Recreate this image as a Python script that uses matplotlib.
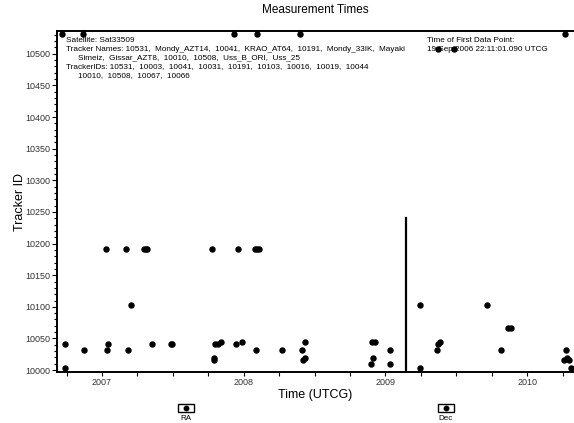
import matplotlib
matplotlib.use("Agg")
import matplotlib.pyplot as plt
from matplotlib.patches import Rectangle
from matplotlib.ticker import MultipleLocator, FixedLocator

plt.rcParams['font.family'] = ['Liberation Sans', 'DejaVu Sans']

# Measurement times (decimal years) per tracker ID
tracker_ids = [10531, 10508, 10191, 10103, 10067, 10066, 10044, 10041,
               10031, 10019, 10016, 10010, 10003]
times = {
    10531: [2006.716, 2006.866, 2007.932, 2008.094, 2008.397, 2010.267],
    10508: [2009.371, 2009.484],
    10191: [2007.028, 2007.169, 2007.299, 2007.311, 2007.318, 2007.774,
            2007.962, 2008.080, 2008.094, 2008.110],
    10103: [2007.207, 2009.242, 2009.719],
    10067: [2009.863],
    10066: [2009.886],
    10044: [2007.838, 2007.986, 2008.433, 2008.903, 2008.927, 2009.385],
    10041: [2006.739, 2007.044, 2007.353, 2007.490, 2007.497, 2007.797,
            2007.819, 2007.946, 2009.371],
    10031: [2006.875, 2007.033, 2007.186, 2008.087, 2008.268, 2008.411,
            2009.032, 2009.362, 2009.816, 2010.277],
    10019: [2007.790, 2008.433, 2008.915, 2010.285],
    10016: [2007.790, 2008.418, 2010.263, 2010.298],
    10010: [2008.898, 2009.032],
    10003: [2006.739, 2009.242, 2010.310],
}
gap_time = 2009.143
gap_top = 10240

year_ticks = [2007, 2008, 2009, 2010]
year_labels = ['2007', '2008', '2009', '2010']

fig = plt.figure(figsize=(5.74, 4.23), dpi=100)
ax = fig.add_axes([57/574, 1-372/423, 1-57/574, (372-31)/423])

for tid in tracker_ids:
    ts = times[tid]
    ax.plot(ts, [tid]*len(ts), 'o', color='black', markersize=3.6,
            linestyle='none', clip_on=False, zorder=3)

ax.plot([gap_time, gap_time], [9996, gap_top], color='black', lw=1.6, zorder=2)

ax.set_xlim(2006.682, 2010.331)
ax.set_ylim(9997, 10536)

ax.xaxis.set_major_locator(FixedLocator(year_ticks))
ax.set_xticklabels(year_labels)
ax.xaxis.set_minor_locator(MultipleLocator(0.25))
ax.yaxis.set_major_locator(MultipleLocator(50))
ax.yaxis.set_minor_locator(MultipleLocator(10))

ax.tick_params(axis='x', which='both', direction='out', length=3, width=0.8,
               labelsize=6.5, labelcolor='#333333', pad=1.5)
ax.tick_params(axis='y', which='major', direction='out', length=3.5, width=0.8,
               labelsize=6.5, labelcolor='#333333', pad=1)
ax.tick_params(axis='y', which='minor', direction='out', length=2.2, width=0.8)

ax.spines['right'].set_visible(False)
for s in ['left', 'bottom', 'top']:
    ax.spines[s].set_linewidth(1.4)

ax.set_title('Measurement Times', fontsize=8.5, pad=13)
ax.set_xlabel('Time (UTCG)', fontsize=9, labelpad=1)
ax.set_ylabel('Tracker ID', fontsize=9, labelpad=0)

fs = 5.9
ax.text(66/574, 1-40/423, 'Satellite: Sat33509', transform=fig.transFigure,
        fontsize=fs, va='center', ha='left')
ax.text(66/574, 1-49/423,
        'Tracker Names: 10531,  Mondy_AZT14,  10041,  KRAO_AT64,  10191,  Mondy_33IK,  Mayaki',
        transform=fig.transFigure, fontsize=fs, va='center', ha='left')
ax.text(78/574, 1-58/423,
        'Simeiz,  Gissar_AZT8,  10010,  10508,  Uss_B_ORI,  Uss_25',
        transform=fig.transFigure, fontsize=fs, va='center', ha='left')
ax.text(66/574, 1-67/423,
        'TrackerIDs: 10531,  10003,  10041,  10031,  10191,  10103,  10016,  10019,  10044',
        transform=fig.transFigure, fontsize=fs, va='center', ha='left')
ax.text(78/574, 1-76/423,
        '10010,  10508,  10067,  10066',
        transform=fig.transFigure, fontsize=fs, va='center', ha='left')
ax.text(427/574, 1-40/423, 'Time of First Data Point:', transform=fig.transFigure,
        fontsize=fs, va='center', ha='left')
ax.text(427/574, 1-49/423, '19 Sep 2006 22:11:01.090 UTCG', transform=fig.transFigure,
        fontsize=fs, va='center', ha='left')

# small legend icons
for cx, lab in [(186, 'RA'), (446, 'Dec')]:
    fig.patches.append(Rectangle(((cx-8)/574, 1-412/423), 16/574, 8/423,
                                 transform=fig.transFigure, fill=False,
                                 edgecolor='black', lw=1.0))
    fig.lines.append(plt.Line2D([cx/574], [1-408/423], marker='o', markersize=3.2,
                                color='black', transform=fig.transFigure))
    fig.text(cx/574, 1-418/423, lab, fontsize=5.8, ha='center', va='center')

fig.savefig('out.png', dpi=100)
